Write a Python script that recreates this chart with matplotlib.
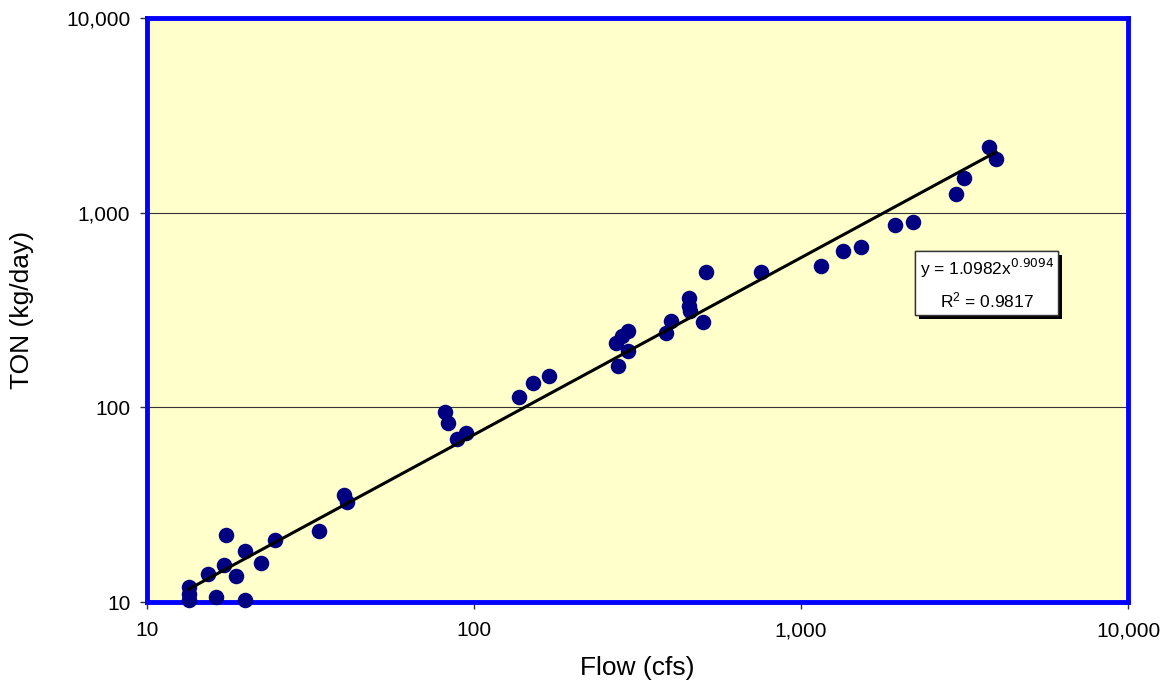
import matplotlib
matplotlib.use("Agg")
import matplotlib.pyplot as plt
import matplotlib.patheffects as pe
import numpy as np
from matplotlib.ticker import FixedLocator, NullLocator

plt.rcParams['font.family'] = ['Liberation Sans', 'DejaVu Sans']

flow = [13.4, 13.4, 13.4, 16.2, 20.0, 15.4, 17.4, 17.2, 18.7, 20.0, 22.3, 24.7,
        33.6, 40.0, 40.8, 81.5, 83.5, 89.0, 94.5, 137, 152, 169.5,
        275, 272, 283, 295, 295, 386, 400, 455, 454, 458, 500, 512, 754,
        1151, 1341, 1526, 1939, 2205, 2979, 3151, 3767, 3950]
ton = [12.0, 11.0, 10.2, 10.6, 10.3, 13.9, 22.1, 15.5, 13.6, 18.3, 15.9, 20.8,
       23.2, 35.4, 32.7, 94.9, 83.3, 68.5, 74.1, 113.4, 132.7, 145,
       163, 215, 232, 247, 195, 241.6, 277, 363, 331, 312, 274, 497, 493,
       532, 637, 665, 863, 898, 1241, 1500, 2181, 1892]

coef_a = 1.0982
coef_b = 0.9094
r2 = 0.9817

ticks = [10, 100, 1000, 10000]
tick_labels = ['10', '100', '1,000', '10,000']

fig = plt.figure(figsize=(11.69, 6.92), dpi=100)
ax = fig.add_axes([147/1169, 1-602/692, (1128-147)/1169, (602-18)/692])
ax.set_facecolor('#FFFFCC')
ax.set_xscale('log')
ax.set_yscale('log')
ax.set_xlim(10, 10000)
ax.set_ylim(10, 10000)

for t in ticks[1:-1]:
    ax.axhline(t, color='#333333', lw=0.8, zorder=1)

ax.scatter(flow, ton, s=125, color='#000080', zorder=3, linewidths=0, clip_on=False)

xx = np.logspace(np.log10(min(flow)), np.log10(max(flow)), 50)
ax.plot(xx, coef_a * xx**coef_b, color='black', lw=2.2, zorder=4)

for s in ax.spines.values():
    s.set_color('#0000FF')
    s.set_linewidth(3.5)
    s.set_zorder(2.5)

ax.xaxis.set_major_locator(FixedLocator(ticks))
ax.yaxis.set_major_locator(FixedLocator(ticks))
ax.xaxis.set_minor_locator(NullLocator())
ax.yaxis.set_minor_locator(NullLocator())
ax.set_xticklabels(tick_labels)
ax.set_yticklabels(tick_labels)
ax.tick_params(axis='both', which='major', direction='out', length=5, width=1,
               color='#333333', labelsize=15)
ax.tick_params(axis='x', pad=9)
ax.tick_params(axis='y', pad=7)

ax.set_xlabel('Flow (cfs)', fontsize=19)
ax.set_ylabel('TON (kg/day)', fontsize=19)
ax.xaxis.set_label_coords(0.5, (602-656)/584)
ax.yaxis.set_label_coords((34-147)/981, 0.5)

txt = ("y = %.4fx$^{%.4f}$\n$\\mathregular{R^2}$ = %.4f" % (coef_a, coef_b, r2))
t = ax.text(0.856, 0.545, txt, transform=ax.transAxes, ha='center', va='center',
            fontsize=12.5, linespacing=1.6, zorder=6,
            bbox=dict(boxstyle='square,pad=0.25', facecolor='white', edgecolor='#333333', lw=1))
t.get_bbox_patch().set_path_effects([
    pe.withSimplePatchShadow(offset=(3, -3), shadow_rgbFace='black', alpha=1.0),
    pe.Normal()])

fig.savefig('out.png', dpi=100)
